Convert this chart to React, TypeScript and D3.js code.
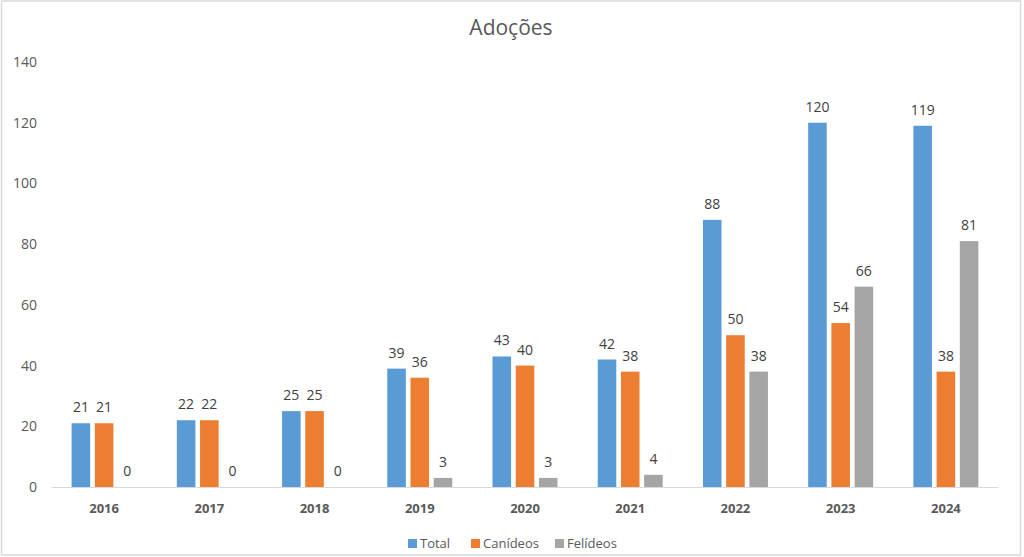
import React from "react";
import * as d3 from "d3";

const years = ["2016", "2017", "2018", "2019", "2020", "2021", "2022", "2023", "2024"];
const total = [21, 22, 25, 39, 43, 42, 88, 120, 119];
const canideos = [21, 22, 25, 36, 40, 38, 50, 54, 38];
const felideos = [0, 0, 0, 3, 3, 4, 38, 66, 81];
const seriesNames = ["Total", "Canídeos", "Felídeos"];
const colors = ["#5B9BD5", "#ED7D31", "#A5A5A5"];
const yTicks = [0, 20, 40, 60, 80, 100, 120, 140];

const W = 1024, H = 557;
const FONT = "'Open Sans', 'Noto Sans', sans-serif";

export default function App() {
  const x = d3.scaleBand<string>().domain(years).range([51.5, 998.5]).paddingInner(0).paddingOuter(0);
  const y = d3.scaleLinear().domain([0, 140]).range([487, 62]);
  const inner = d3.scaleBand<string>().domain(seriesNames).range([-32.5, 32.5]).paddingInner(0.2);
  const series = [total, canideos, felideos];

  return (
    <svg width={W} height={H} style={{ position: "absolute", left: 0, top: 0 }}>
      <rect x={0} y={0} width={W} height={H} fill="#fff" />
      <rect x={1.5} y={1} width={1019} height={554} fill="none" stroke="#d9d9d9" strokeWidth={1.5} />
      <text x={511} y={35} textAnchor="middle" fontFamily={FONT} fontSize={21} fill="#595959">Adoções</text>
      {yTicks.map((t) => (
        <text key={t} x={37} y={y(t) + 5} textAnchor="end" fontFamily={FONT} fontSize={14} fill="#595959">{t}</text>
      ))}
      <line x1={51.5} x2={998.5} y1={487.5} y2={487.5} stroke="#d9d9d9" strokeWidth={1} />
      {years.map((yr, i) => {
        const cx = (x(yr) as number) + x.bandwidth() / 2;
        return (
          <g key={yr}>
            {series.map((s, j) => {
              const bx = cx + (inner(seriesNames[j]) as number);
              const bw = inner.bandwidth();
              return (
                <g key={j}>
                  <rect x={bx} y={y(s[i])} width={bw} height={y(0) - y(s[i])} fill={colors[j]} />
                  <text x={bx + bw / 2} y={y(s[i]) - 11} textAnchor="middle" fontFamily={FONT} fontSize={14} fill="#404040">{s[i]}</text>
                </g>
              );
            })}
            <text x={cx} y={513} textAnchor="middle" fontFamily={FONT} fontSize={13} fontWeight="bold" fill="#595959">{yr}</text>
          </g>
        );
      })}
      {seriesNames.map((n, j) => {
        const lx = [408, 471, 555][j];
        return (
          <g key={n}>
            <rect x={lx} y={539} width={9} height={9} fill={colors[j]} />
            <text x={lx + 12} y={548} fontFamily={FONT} fontSize={13} fill="#595959">{n}</text>
          </g>
        );
      })}
    </svg>
  );
}
